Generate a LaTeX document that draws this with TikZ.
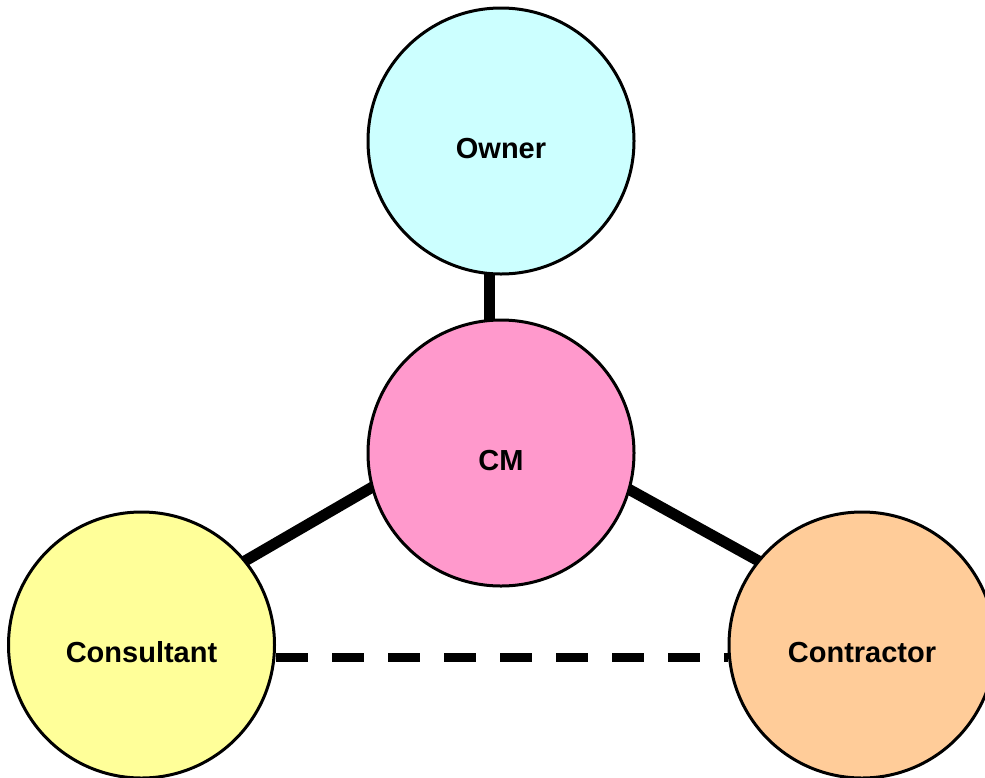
\documentclass[tikz,border=0pt]{standalone}
\usepackage{fontspec}
\setmainfont{Liberation Sans}
\usetikzlibrary{calc,backgrounds}
\definecolor{ownerc}{HTML}{CCFFFF}
\definecolor{cmc}{HTML}{FF99CC}
\definecolor{consc}{HTML}{FFFF99}
\definecolor{contrc}{HTML}{FFCC99}
\tikzset{
 party/.style={circle, draw=black, line width=3pt, minimum size=266pt, inner sep=0pt,
   font=\fontsize{29}{34}\selectfont\bfseries, text height=35pt, text depth=0pt},
 solidlink/.style={line width=11pt},
 dashlink/.style={line width=9pt, dash pattern=on 32pt off 24pt},
}
\begin{document}
\begin{tikzpicture}[x=1pt,y=-1pt]
\useasboundingbox (0,0) rectangle (985,777);
\node[party, fill=ownerc] (owner) at (501,141) {Owner};
\node[party, fill=cmc] (cm) at (501,453) {CM};
\node[party, fill=consc] (cons) at (141.5,645) {Consultant};
\node[party, fill=contrc] (contr) at (862,645) {Contractor};
\begin{scope}[on background layer]
\draw[solidlink] ([xshift=-12pt,yshift=6pt]owner.south) -- ([xshift=-12pt,yshift=-6pt]cm.north);
\draw[solidlink] ($(cm.195.8)!-8pt!(cons.39)$) -- ($(cons.39)!-8pt!(cm.195.8)$);
\draw[solidlink] ($(cm.344.2)!-8pt!(contr.141)$) -- ($(contr.141)!-8pt!(cm.344.2)$);
\draw[dashlink] ([yshift=-12pt]cons.east) -- ([yshift=-12pt]contr.west);
\end{scope}
\end{tikzpicture}
\end{document}
